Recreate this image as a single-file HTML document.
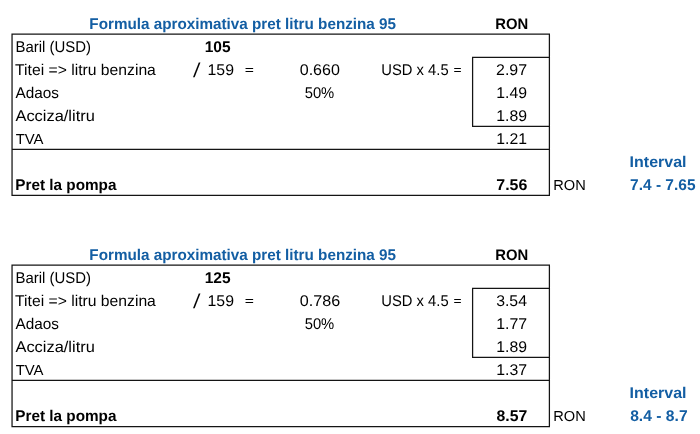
<!DOCTYPE html>
<html lang="ro"><head><meta charset="utf-8"><title>Formula aproximativa pret litru benzina 95</title>
<style>
html,body{margin:0;padding:0;background:#fff}
#s{position:relative;width:700px;height:434px;overflow:hidden;background:#fff;will-change:transform;font-family:"Liberation Sans",sans-serif;font-size:15.5px;}
#s span{position:absolute;display:block;white-space:pre;line-height:20px;height:20px;transform-origin:0 0;color:#000;text-rendering:geometricPrecision}
#s b{font-weight:bold}
#s .u{color:#135ea3}
</style></head>
<body><div id="s">
<svg width="700" height="434" viewBox="0 0 700 434" style="position:absolute;left:0;top:0" fill="none" stroke="#141414" stroke-width="1.25"><path d="M12.05 34.15H549.4V195.35H12.05Z M12.05 149.4H549.4 M549.4 57.4H472.6V126.3H549.4"/><path d="M12.05 265.0H549.4V426.6H12.05Z M12.05 380.4H549.4 M549.4 288.4H472.6V357.3H549.4"/></svg>
<span class="u" style="left:89px;top:15px;transform:translateX(0.35px) scaleX(0.9836)"><b>Formula aproximativa pret litru benzina 95</b></span>
<span style="font-size:15.2px;left:495px;top:15px;transform:translateX(0.20px) scaleX(0.9764)"><b>RON</b></span>
<span style="left:15px;top:38px;transform:translateX(0.48px) scaleX(0.9646)">Baril (USD)</span>
<span style="left:204px;top:38px;transform:translateX(0.73px) scaleX(1.0003)"><b>105</b></span>
<span style="left:15px;top:61px;transform:translateX(0.07px) scaleX(1.0128)">Titei =&gt; litru benzina</span>
<span style="font-size:20px;left:194px;top:61px;transform:translateX(0.61px) skewX(-6deg) scaleX(1.0620)">/</span>
<span style="left:207px;top:61px;transform:translateX(0.53px) scaleX(1.0212)">159</span>
<span style="font-size:12px;left:244px;top:60px;transform:translateX(0.83px) scaleX(1.3052)">=</span>
<span style="left:299px;top:61px;transform:translateX(0.73px) scaleX(1.0355)">0.660</span>
<span style="left:381px;top:61px;transform:translateX(0.27px) scaleX(0.9531)">USD x 4.5</span>
<span style="font-size:12px;left:453px;top:60px;transform:translateX(0.44px) scaleX(1.1513)">=</span>
<span style="left:496px;top:61px;transform:translateX(0.07px) scaleX(1.0282)">2.97</span>
<span style="left:15px;top:84px;transform:translateX(0.44px) scaleX(0.9878)">Adaos</span>
<span style="left:304px;top:84px;transform:translateX(0.67px) scaleX(0.9541)">50%</span>
<span style="left:496px;top:84px;transform:translateX(0.28px) scaleX(1.0178)">1.49</span>
<span style="left:15px;top:107px;transform:translateX(0.42px) scaleX(1.0598)">Acciza/litru</span>
<span style="left:496px;top:107px;transform:translateX(0.28px) scaleX(1.0178)">1.89</span>
<span style="font-size:14.4px;left:15px;top:130px;transform:translateX(0.70px) scaleX(1.0338)">TVA</span>
<span style="left:496px;top:130px;transform:translateX(0.28px) scaleX(1.0174)">1.21</span>
<span style="left:15px;top:176px;transform:translateX(0.35px) scaleX(0.9862)"><b>Pret la pompa</b></span>
<span style="left:496px;top:176px;transform:translateX(0.31px) scaleX(1.0283)"><b>7.56</b></span>
<span style="font-size:14.4px;left:553px;top:176px;transform:translateX(0.21px) scaleX(1.0161)">RON</span>
<span class="u" style="left:629px;top:153px;transform:translateX(0.62px) scaleX(1.0311)"><b>Interval</b></span>
<span class="u" style="left:630px;top:176px;transform:translateX(0.08px) scaleX(0.9990)"><b>7.4 - 7.65</b></span>
<span class="u" style="left:89px;top:246px;transform:translateX(0.35px) scaleX(0.9836)"><b>Formula aproximativa pret litru benzina 95</b></span>
<span style="font-size:15.2px;left:495px;top:246px;transform:translateX(0.20px) scaleX(0.9764)"><b>RON</b></span>
<span style="left:15px;top:269px;transform:translateX(0.48px) scaleX(0.9646)">Baril (USD)</span>
<span style="left:204px;top:269px;transform:translateX(0.73px) scaleX(1.0003)"><b>125</b></span>
<span style="left:15px;top:292px;transform:translateX(0.07px) scaleX(1.0128)">Titei =&gt; litru benzina</span>
<span style="font-size:20px;left:194px;top:292px;transform:translateX(0.61px) skewX(-6deg) scaleX(1.0620)">/</span>
<span style="left:207px;top:292px;transform:translateX(0.53px) scaleX(1.0212)">159</span>
<span style="font-size:12px;left:244px;top:291px;transform:translateX(0.83px) scaleX(1.3052)">=</span>
<span style="left:299px;top:292px;transform:translateX(0.72px) scaleX(1.0415)">0.786</span>
<span style="left:381px;top:292px;transform:translateX(0.27px) scaleX(0.9531)">USD x 4.5</span>
<span style="font-size:12px;left:453px;top:291px;transform:translateX(0.44px) scaleX(1.1513)">=</span>
<span style="left:496px;top:292px;transform:translateX(0.18px) scaleX(1.0202)">3.54</span>
<span style="left:15px;top:315px;transform:translateX(0.44px) scaleX(0.9878)">Adaos</span>
<span style="left:304px;top:315px;transform:translateX(0.67px) scaleX(0.9541)">50%</span>
<span style="left:496px;top:315px;transform:translateX(0.27px) scaleX(1.0230)">1.77</span>
<span style="left:15px;top:338px;transform:translateX(0.42px) scaleX(1.0598)">Acciza/litru</span>
<span style="left:496px;top:338px;transform:translateX(0.28px) scaleX(1.0178)">1.89</span>
<span style="font-size:14.4px;left:15px;top:361px;transform:translateX(0.70px) scaleX(1.0338)">TVA</span>
<span style="left:496px;top:361px;transform:translateX(0.27px) scaleX(1.0230)">1.37</span>
<span style="left:15px;top:407px;transform:translateX(0.35px) scaleX(0.9862)"><b>Pret la pompa</b></span>
<span style="left:496px;top:407px;transform:translateX(0.52px) scaleX(1.0199)"><b>8.57</b></span>
<span style="font-size:14.4px;left:553px;top:407px;transform:translateX(0.21px) scaleX(1.0161)">RON</span>
<span class="u" style="left:629px;top:384px;transform:translateX(0.62px) scaleX(1.0311)"><b>Interval</b></span>
<span class="u" style="left:630px;top:407px;transform:translateX(0.15px) scaleX(1.0107)"><b>8.4 - 8.7</b></span>
</div></body></html>
